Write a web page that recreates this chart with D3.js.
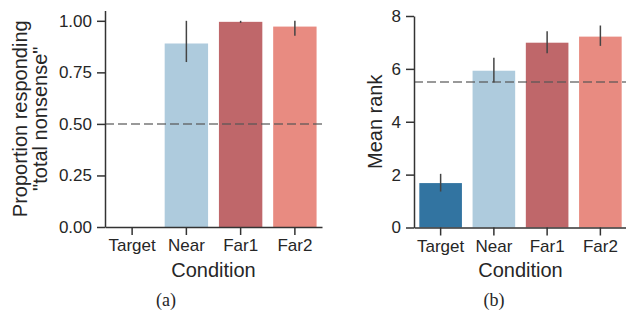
<!DOCTYPE html>
<html>
<head>
<meta charset="utf-8">
<script src="https://cdn.jsdelivr.net/npm/d3@7"></script>
<style>
body { margin: 0; background: #fff; }
svg text { font-family: "Liberation Sans", Arial, sans-serif; fill: #262626; }
</style>
</head>
<body>
<script>
var categories = ["Target", "Near", "Far1", "Far2"];
var colours = ["#3274a1", "#aecbdd", "#bf676a", "#e88b81"];

// (a) proportion responding "total nonsense"
var propValues = [0, 0.89, 0.995, 0.972];
var propLow = [0, 0.80, 0.99, 0.927];
var propHigh = [0, 1.0, 1.0, 1.0];
var propTicks = [0, 0.25, 0.5, 0.75, 1.0];

// (b) mean rank
var rankValues = [1.68, 5.93, 6.99, 7.22];
var rankLow = [1.36, 5.48, 6.59, 6.87];
var rankHigh = [2.03, 6.42, 7.42, 7.64];
var rankTicks = [0, 2, 4, 6, 8];

var width = 626, height = 322;
var svg = d3.select("body").append("svg").attr("width", width).attr("height", height);

function panel(opts) {
    var x = d3.scaleBand().domain(categories).range([opts.left, opts.right])
        .paddingInner(0.2).paddingOuter(0.1);
    var y = d3.scaleLinear().domain(opts.domain).range([opts.bottom, opts.top]);
    var g = svg.append("g");

    //Bars
    g.selectAll(".bar").data(categories).enter().append("rect")
        .attr("x", function(d) { return x(d); })
        .attr("y", function(d, i) { return y(opts.values[i]); })
        .attr("width", x.bandwidth())
        .attr("height", function(d, i) { return y(0) - y(opts.values[i]); })
        .attr("fill", function(d, i) { return colours[i]; })
        .style("display", function(d, i) { return opts.values[i] > 0 ? null : "none"; });

    //Reference line
    g.append("line")
        .attr("x1", opts.left).attr("x2", opts.right)
        .attr("y1", y(opts.ref)).attr("y2", y(opts.ref))
        .attr("stroke", "#555").attr("stroke-opacity", 0.8)
        .attr("stroke-width", 1.5).attr("stroke-dasharray", "9,4");

    //Error bars
    g.selectAll(".err").data(categories).enter().append("line")
        .attr("x1", function(d) { return x(d) + x.bandwidth() / 2; })
        .attr("x2", function(d) { return x(d) + x.bandwidth() / 2; })
        .attr("y1", function(d, i) { return y(opts.low[i]); })
        .attr("y2", function(d, i) { return y(opts.high[i]); })
        .attr("stroke", "#444").attr("stroke-width", 1.5)
        .style("display", function(d, i) { return opts.high[i] > opts.low[i] ? null : "none"; });

    //Axes
    var ax = g.append("g").attr("transform", "translate(0," + opts.bottom + ")")
        .call(d3.axisBottom(x).tickSize(8).tickPadding(4).tickSizeOuter(0));
    var ay = g.append("g").attr("transform", "translate(" + opts.left + ",0)")
        .call(d3.axisLeft(y).tickValues(opts.ticks).tickFormat(opts.format)
            .tickSize(8).tickPadding(5).tickSizeOuter(0));
    [ax, ay].forEach(function(a) {
        a.selectAll("path, line").attr("stroke", "#333").attr("stroke-width", 1.5);
        a.selectAll("text").attr("font-size", 17).attr("fill", "#262626")
            .style("font-family", "'Liberation Sans', Arial, sans-serif");
    });

    g.append("text")
        .attr("x", (opts.left + opts.right) / 2).attr("y", 277)
        .attr("text-anchor", "middle").attr("font-size", 20)
        .text("Condition");

    opts.ylabel.forEach(function(t, i) {
        g.append("text")
            .attr("transform", "translate(" + opts.labelX[i] + "," + ((opts.top + opts.bottom) / 2) + ")rotate(-90)")
            .attr("text-anchor", "middle").attr("font-size", 20)
            .text(t);
    });

    g.append("text")
        .attr("x", opts.captionX).attr("y", 306)
        .attr("text-anchor", "middle").attr("font-size", 18)
        .style("font-family", "'Liberation Serif', 'Times New Roman', serif")
        .text(opts.caption);
}

panel({
    left: 105, right: 322, top: 10.5, bottom: 227,
    domain: [0, 1.05], values: propValues, low: propLow, high: propHigh,
    ticks: propTicks, format: d3.format(".2f"), ref: 0.5,
    ylabel: ["Proportion responding", "\"total nonsense\""], labelX: [27, 47],
    caption: "(a)", captionX: 166
});

panel({
    left: 414, right: 627, top: 16, bottom: 227.5,
    domain: [0, 8], values: rankValues, low: rankLow, high: rankHigh,
    ticks: rankTicks, format: d3.format("d"), ref: 5.5,
    ylabel: ["Mean rank"], labelX: [382],
    caption: "(b)", captionX: 494
});
</script>
</body>
</html>
